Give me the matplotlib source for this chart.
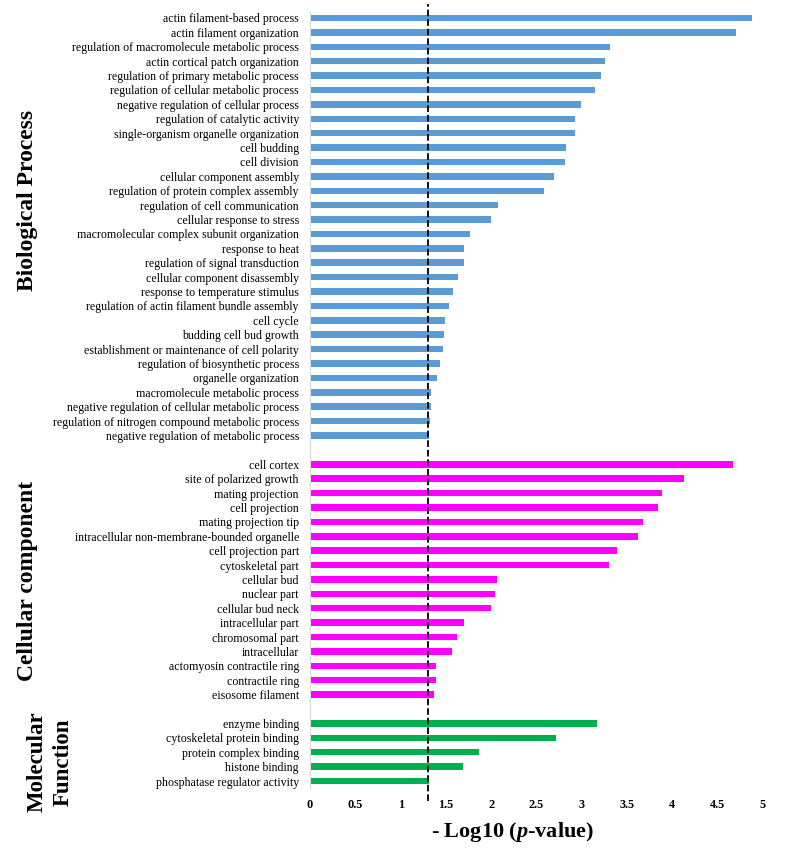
import matplotlib
matplotlib.use("Agg")
import matplotlib.pyplot as plt

plt.rcParams['font.family'] = ['Liberation Serif', 'DejaVu Serif']
plt.rcParams['mathtext.fontset'] = 'custom'
plt.rcParams['mathtext.it'] = 'Liberation Serif:bold:italic'
plt.rcParams['mathtext.rm'] = 'Liberation Serif:bold'

bp_terms = ["actin filament-based process", "actin filament organization",
            "regulation of macromolecule metabolic process", "actin cortical patch organization",
            "regulation of primary metabolic process", "regulation of cellular metabolic process",
            "negative regulation of cellular process", "regulation of catalytic activity",
            "single-organism organelle organization", "cell budding", "cell division",
            "cellular component assembly", "regulation of protein complex assembly",
            "regulation of cell communication", "cellular response to stress",
            "macromolecular complex subunit organization", "response to heat",
            "regulation of signal transduction", "cellular component disassembly",
            "response to temperature stimulus", "regulation of actin filament bundle assembly",
            "cell cycle", "budding cell bud growth", "establishment or maintenance of cell polarity",
            "regulation of biosynthetic process", "organelle organization",
            "macromolecule metabolic process", "negative regulation of cellular metabolic process",
            "regulation of nitrogen compound metabolic process",
            "negative regulation of metabolic process"]
bp_vals = [4.88, 4.70, 3.315, 3.26, 3.21, 3.145, 2.99, 2.92, 2.92, 2.83, 2.81, 2.69, 2.58,
           2.08, 2.00, 1.77, 1.70, 1.695, 1.63, 1.575, 1.535, 1.49, 1.48, 1.465, 1.44,
           1.405, 1.34, 1.34, 1.33, 1.315]

cc_terms = ["cell cortex", "site of polarized growth", "mating projection", "cell projection",
            "mating projection tip", "intracellular non-membrane-bounded organelle",
            "cell projection part", "cytoskeletal part", "cellular bud", "nuclear part",
            "cellular bud neck", "intracellular part", "chromosomal part", "intracellular",
            "actomyosin contractile ring", "contractile ring", "eisosome filament"]
cc_vals = [4.67, 4.13, 3.89, 3.84, 3.68, 3.62, 3.385, 3.30, 2.065, 2.04, 2.00, 1.695,
           1.62, 1.57, 1.395, 1.395, 1.37]

mf_terms = ["enzyme binding", "cytoskeletal protein binding", "protein complex binding",
            "histone binding", "phosphatase regulator activity"]
mf_vals = [3.165, 2.72, 1.87, 1.69, 1.31]

cutoff = 1.301
xticks = [0, 0.5, 1, 1.5, 2, 2.5, 3, 3.5, 4, 4.5, 5]
xtick_labels = ["0", "0.5", "1", "1.5", "2", "2.5", "3", "3.5", "4", "4.5", "5"]

fig = plt.figure(figsize=(7.85, 8.5), dpi=100)
ax = fig.add_axes([310 / 785, 1 - 788.2 / 850, (763 - 310) / 785, 777.4 / 850])

groups = [(bp_terms, bp_vals, "#5b9bd5"), (cc_terms, cc_vals, "#ff00ff"),
          (mf_terms, mf_vals, "#00b050")]
pos = 0
ypos, ylabels = [], []
for terms, vals, col in groups:
    ys = list(range(pos, pos + len(terms)))
    ax.barh(ys, vals, height=0.45, color=col)
    ypos += ys
    ylabels += terms
    pos += len(terms) + 1

ax.set_ylim(pos - 1 - 0.5, -0.5)
ax.set_xlim(0, 5)
ax.set_yticks(ypos)
ax.set_yticklabels(ylabels, fontsize=8.6)
ax.set_xticks(xticks)
ax.set_xticklabels(xtick_labels, fontsize=8.8, fontweight='bold')
ax.tick_params(length=0, axis='both')
ax.tick_params(axis='y', pad=8)
ax.tick_params(axis='x', pad=8)
for s in ['top', 'right', 'bottom']:
    ax.spines[s].set_visible(False)
ax.spines['left'].set_color('#d9d9d9')

ax.axvline(cutoff, ymin=-0.016, ymax=1.009, color='black', linestyle='--',
           linewidth=1.3, clip_on=False)

fig.text(513 / 785, 1 - 832 / 850, r'- Log10 ($\mathit{p}$-value)', fontsize=16,
         fontweight='bold', ha='center', va='center')

fig.text(28 / 785, 1 - 200 / 850, "Biological Process", rotation=90, fontsize=17,
         fontweight='bold', ha='center', va='center')
fig.text(28 / 785, 1 - 581 / 850, "Cellular component", rotation=90, fontsize=17,
         fontweight='bold', ha='center', va='center')
fig.text(50 / 785, 1 - 762 / 850, "Molecular\nFunction", rotation=90, fontsize=16.5,
         fontweight='bold', ha='center', va='center', linespacing=1.3)

fig.savefig("out.png", dpi=100)
